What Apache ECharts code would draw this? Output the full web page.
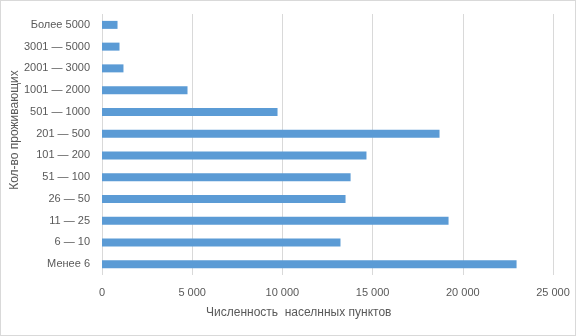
<!DOCTYPE html>
<html>
<head>
<meta charset="utf-8">
<script src="https://cdn.jsdelivr.net/npm/echarts@6/dist/echarts.min.js"></script>
<style>
  html, body { margin: 0; padding: 0; background: #fff; }
  #chart { width: 576px; height: 336px; box-sizing: border-box; border: 1px solid #d9d9d9; }
</style>
</head>
<body>
<div id="chart"></div>
<script>
// категории снизу вверх (как в Excel)
const categories = ['Менее 6', '6 — 10', '11 — 25', '26 — 50', '51 — 100', '101 — 200',
  '201 — 500', '501 — 1000', '1001 — 2000', '2001 — 3000', '3001 — 5000', 'Более 5000']
const values = [22980, 13220, 19210, 13500, 13780, 14660, 18710, 9730, 4740, 1190, 970, 860]
const xTicks = [0, 5000, 10000, 15000, 20000, 25000]
const xTitle = 'Численность  населнных пунктов'
const yTitle = 'Кол-во проживающих'

const font = '"Liberation Sans", "DejaVu Sans", sans-serif'
const chart = echarts.init(document.getElementById('chart'), null, { renderer: 'canvas' })

const option = {
  animation: false,
  textStyle: { fontFamily: font },
  grid: { left: 101, right: 22, top: 13, bottom: 60, containLabel: false },
  xAxis: {
    type: 'value',
    min: xTicks[0],
    max: xTicks[xTicks.length - 1],
    interval: 5000,
    axisLine: { show: false },
    axisTick: { show: false },
    splitLine: { lineStyle: { color: '#d9d9d9', width: 1 } },
    axisLabel: {
      color: '#595959',
      fontSize: 11,
      margin: 12,
      formatter: (v) => (v === 0 ? '0' : String(v).replace(/\B(?=(\d{3})+(?!\d))/g, ' ')),
    },
  },
  yAxis: {
    type: 'category',
    data: categories,
    axisLine: { show: false },
    axisTick: { show: false },
    axisLabel: { color: '#595959', fontSize: 11, margin: 12 },
  },
  graphic: [
    {
      type: 'text',
      left: 205,
      top: 306,
      style: { text: xTitle, fill: '#595959', font: '12px ' + font },
    },
    {
      type: 'text',
      x: 14,
      y: 129,
      rotation: Math.PI / 2,
      style: { text: yTitle, fill: '#595959', font: '12px ' + font, align: 'center', verticalAlign: 'middle' },
    },
  ],
  series: [
    {
      name: 'Кол-во',
      type: 'bar',
      data: values,
      barWidth: 8,
      itemStyle: { color: '#5b9bd5' },
    },
  ],
}
chart.setOption(option)
</script>
</body>
</html>
